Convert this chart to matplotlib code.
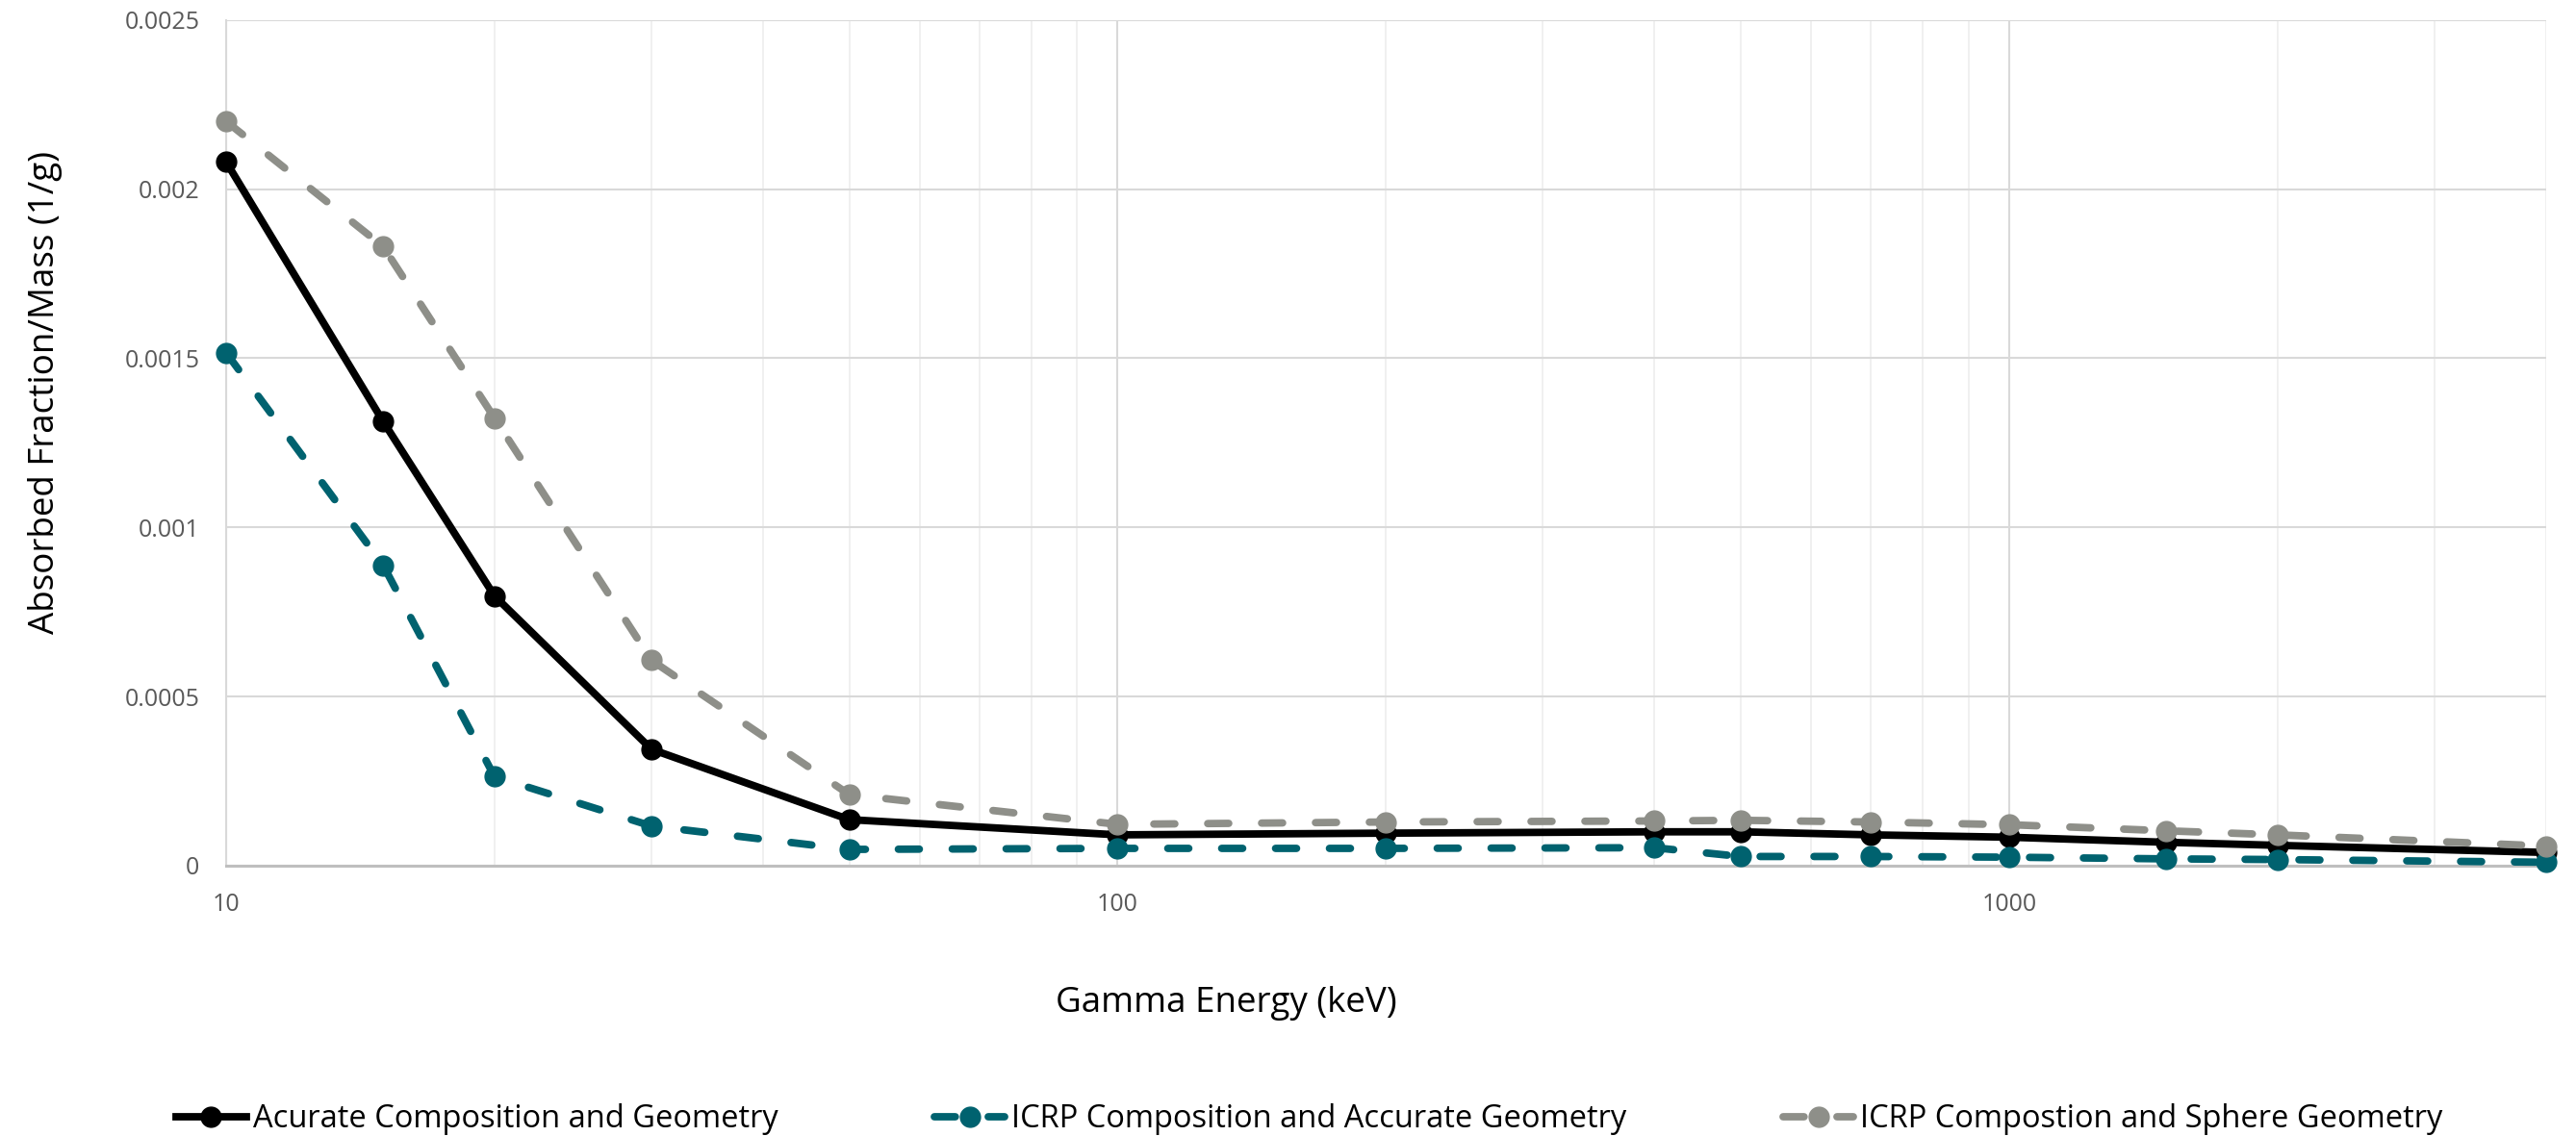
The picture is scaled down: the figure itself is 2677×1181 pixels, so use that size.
import matplotlib
matplotlib.use("Agg")
import matplotlib.pyplot as plt
from matplotlib.ticker import FixedLocator, LogLocator, FuncFormatter, NullFormatter

plt.rcParams['font.family'] = ['Open Sans', 'DejaVu Sans']

# gamma energies (keV)
energy = [10, 15, 20, 30, 50, 100, 200, 400, 500, 700, 1000, 1500, 2000, 4000]

# absorbed fraction / mass (1/g)
accurate = [0.00208, 0.001313, 0.000797, 0.000344, 0.000136, 0.000091, 0.000096,
            0.0001, 0.0001, 0.000091, 0.000084, 0.000069, 0.00006, 0.000039]
icrp_accurate = [0.001516, 0.000888, 0.000263, 0.000117, 0.000048, 0.000051, 0.000051,
                 0.000053, 0.000027, 0.000027, 0.000025, 0.00002, 0.000018, 0.00001]
icrp_sphere = [0.0022, 0.00183, 0.001323, 0.000607, 0.00021, 0.000122, 0.000129,
               0.000132, 0.000134, 0.000129, 0.000121, 0.000103, 0.000091, 0.000058]

labels = ["Acurate Composition and Geometry",
          "ICRP Composition and Accurate Geometry",
          "ICRP Compostion and Sphere Geometry"]

fig = plt.figure(figsize=(26.77, 11.81), dpi=100)
ax = fig.add_axes([0.0878, 0.238, 0.9005, 0.7445])

lw = 5.6
ms = 15
dash = (0, (2.8, 4.4))

ax.plot(energy, accurate, color='black', lw=lw, marker='o', ms=ms,
        label=labels[0], clip_on=False, zorder=3)
ax.plot(energy, icrp_accurate, color='#00626f', lw=lw, ls=dash, dash_capstyle='round',
        marker='o', ms=ms, label=labels[1], clip_on=False, zorder=4)
ax.plot(energy, icrp_sphere, color='#8e8f89', lw=lw, ls=dash, dash_capstyle='round',
        marker='o', ms=ms, label=labels[2], clip_on=False, zorder=5)

ax.set_xscale('log')
ax.set_xlim(10, 4000)
ax.set_ylim(0, 0.0025)

ax.xaxis.set_major_locator(FixedLocator([10, 100, 1000]))
ax.xaxis.set_major_formatter(FuncFormatter(lambda v, p: '%d' % v))
ax.xaxis.set_minor_locator(LogLocator(base=10, subs=range(2, 10)))
ax.xaxis.set_minor_formatter(NullFormatter())
ax.set_yticks([0, 0.0005, 0.001, 0.0015, 0.002, 0.0025])
ax.yaxis.set_major_formatter(FuncFormatter(lambda v, p: '%g' % v))

ax.grid(True, which='major', color='#d9d9d9', lw=1.5, zorder=0)
ax.grid(True, which='minor', axis='x', color='#ededed', lw=1.2, zorder=0)
ax.set_axisbelow(True)

ax.tick_params(which='both', length=0, labelsize=18, labelcolor='#595959', pad=20)
for s in ['top', 'right']:
    ax.spines[s].set_visible(False)
ax.spines['left'].set_color('#d9d9d9')
ax.spines['left'].set_linewidth(1.5)
ax.spines['bottom'].set_color('#bfbfbf')
ax.spines['bottom'].set_linewidth(2.2)

ax.set_xlabel("Gamma Energy (keV)", fontsize=26.5, va='center')
ax.xaxis.set_label_coords(0.431, -0.163)
ax.set_ylabel("Absorbed Fraction/Mass (1/g)", fontsize=26.5, va='center')
ax.yaxis.set_label_coords(-0.078, 0.559)

fig.legend(loc='center', bbox_to_anchor=(0.5082, 0.0145), ncol=3, frameon=False,
           fontsize=23.5, handlelength=2.25, handletextpad=0.2, columnspacing=4.98)

fig.savefig("out.png", dpi=100)
